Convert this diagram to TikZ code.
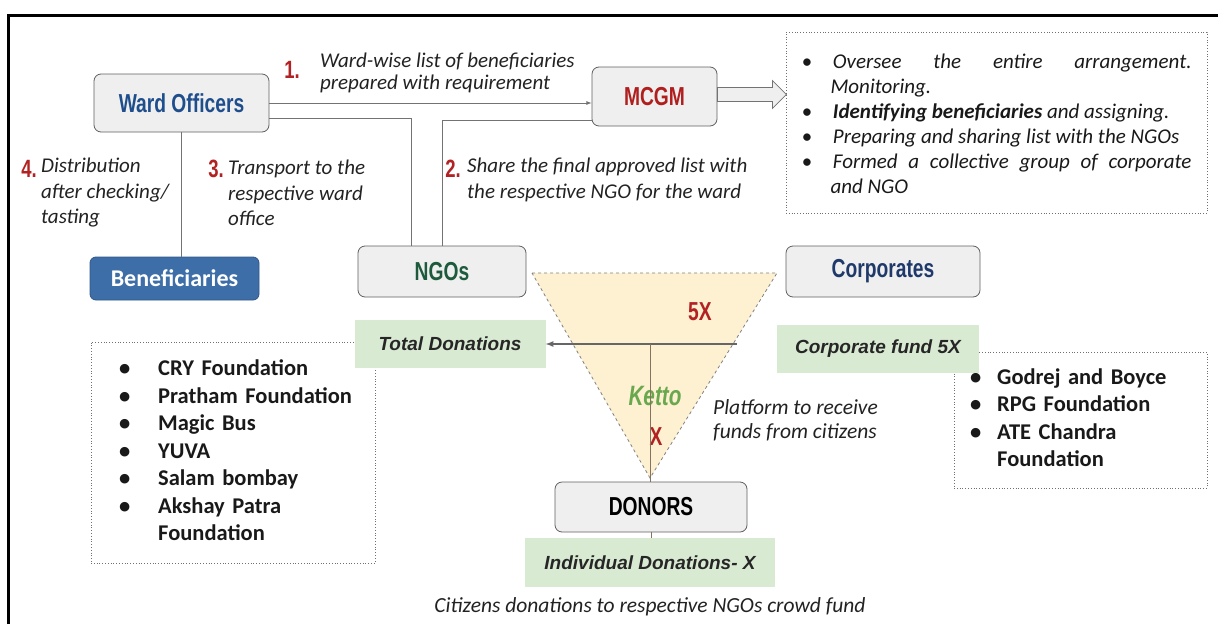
\documentclass[tikz,border=0pt]{standalone}
\usepackage{fontspec}
\setmainfont{Carlito}
\newfontfamily\condfont[FakeStretch=0.74]{Liberation Sans}
\newfontfamily\arialfont{Liberation Sans}
\usetikzlibrary{positioning}
\hyphenpenalty=10000
\exhyphenpenalty=10000
\hfuzz=30pt

\definecolor{boxfill}{HTML}{EFEFEF}
\definecolor{boxline}{HTML}{5F5F5F}
\definecolor{woblue}{HTML}{1F4E8C}
\definecolor{mcgmred}{HTML}{B01E1E}
\definecolor{ngogreen}{HTML}{1E5A3C}
\definecolor{corpblue}{HTML}{1F3A6A}
\definecolor{benfill}{HTML}{3D6EA8}
\definecolor{greenfill}{HTML}{D9EAD3}
\definecolor{trifill}{HTML}{FDF1D2}
\definecolor{kettogreen}{HTML}{6AA84F}
\definecolor{numred}{HTML}{B22222}
\definecolor{dotline}{HTML}{707070}
\definecolor{stemline}{HTML}{85725F}
\definecolor{notetext}{HTML}{222222}

\newenvironment{dutylist}{\begin{list}{\textbullet}{%
  \setlength\leftmargin{29pt}\setlength\labelwidth{8pt}%
  \setlength\labelsep{21pt}\setlength\itemsep{0pt}%
  \setlength\parsep{0pt}\setlength\topsep{0pt}\setlength\partopsep{0pt}}}%
  {\end{list}}

\begin{document}
\begin{tikzpicture}[
  x=1pt,y=1pt,
  graybox/.style={draw=boxline,fill=boxfill,rounded corners=7pt,line width=0.8pt,inner sep=0pt,
    font=\condfont\bfseries\fontsize{26}{26}\selectfont},
  benbox/.style={draw=benfill!80!black,fill=benfill,rounded corners=6pt,line width=0.8pt,inner sep=0pt,
    text=white,font=\bfseries\fontsize{24}{24}\selectfont},
  greenbox/.style={fill=greenfill,inner sep=0pt,text=black!85,
    font=\arialfont\bfseries\itshape\fontsize{19}{22}\selectfont},
  dotbox/.style={draw=dotline,dotted,line width=0.8pt,inner sep=0pt,text=black!90},
  numlabel/.style={text=numred,inner sep=0pt,font=\condfont\bfseries\fontsize{25}{25}\selectfont},
  note/.style={anchor=west,align=left,inner sep=0pt,text=notetext,
    font=\itshape\fontsize{21}{25.5}\selectfont},
  link/.style={draw=black!55,line width=0.8pt},
  thinarrow/.style={draw=black!55,line width=0.8pt,-latex},
  fatarrow/.style={draw=black!55,fill=boxfill,line width=0.8pt},
  fundarrow/.style={draw=black!60,line width=1.6pt,-latex},
  stem/.style={draw=stemline,line width=1pt}
]
\useasboundingbox (0,0) rectangle (1218,-624);

% frame
\draw[line width=3pt] (8,-624) -- (8,-15) -- (1218,-15);

% ketto funnel
\filldraw[fill=trifill,draw=black!50,dashed,line width=0.8pt]
  (532,-273) -- (777,-273) -- (650,-478) -- cycle;

% main boxes
\node[graybox,minimum width=175,minimum height=58,text=woblue] (wo) at (181.5,-103) {Ward Officers};
\node[graybox,minimum width=125,minimum height=59,text=mcgmred] (mcgm) at (654.5,-96.5) {MCGM};
\node[graybox,minimum width=168,minimum height=51,text=ngogreen] (ngo) at (442,-271.5) {NGOs};
\node[graybox,minimum width=194,minimum height=51,text=corpblue] (corp) at (883,-271.5) {Corporates};
\node[graybox,minimum width=192,minimum height=50,text=black] (donors) at (651,-507) {DONORS};
\node[benbox,minimum width=169,minimum height=43] (ben) at (174.5,-278.5) {Beneficiaries};

% lists
\node[dotbox,minimum width=421,minimum height=181,text width=390,align=justify,
  font=\itshape\fontsize{21}{25}\selectfont] (duties) at (996.5,-122.5) {%
  \begin{dutylist}
  \item Oversee the entire arrangement. Monitoring.
  \item \textbf{Identifying beneficiaries} and assigning.
  \item Preparing and sharing list with the NGOs
  \item Formed a collective group of corporate\linebreak and NGO
  \end{dutylist}\par\vspace{8pt}};
\node[dotbox,minimum width=284,minimum height=221,text width=228,
  font=\bfseries\fontsize{22.5}{27.5}\selectfont] (ngolist) at (233,-452.5) {%
  \begin{tabular}{@{}l@{\hspace{28pt}}l@{}}
  \textbullet & CRY Foundation\\
  \textbullet & Pratham Foundation\\
  \textbullet & Magic Bus\\
  \textbullet & YUVA\\
  \textbullet & Salam bombay\\
  \textbullet & Akshay Patra\\
              & Foundation
  \end{tabular}};
\node[dotbox,minimum width=253,minimum height=136,text width=221,
  font=\bfseries\fontsize{22.5}{27.3}\selectfont] (corplist) at (1080.5,-420) {%
  \begin{tabular}{@{}l@{\hspace{16pt}}l@{}}
  \textbullet & Godrej and Boyce\\
  \textbullet & RPG Foundation\\
  \textbullet & ATE Chandra\\
              & Foundation
  \end{tabular}};

% fund boxes
\node[greenbox,minimum width=191,minimum height=48] (total) at (450,-344) {Total Donations};
\node[greenbox,minimum width=202,minimum height=48] (corpfund) at (878,-349) {Corporate fund 5X};
\node[greenbox,minimum width=250,minimum height=49] (indiv) at (650,-562.5) {Individual Donations- X};

% step labels
\node[numlabel] (n1) at (292,-70) {1.};
\node[note,font=\itshape\fontsize{21}{22}\selectfont] (s1) at (320,-73)
  {Ward-wise list of beneficiaries\\prepared with requirement};
\node[numlabel] (n4) at (29,-169) {4.};
\node[note] (s4) at (41,-193) {Distribution\\after checking/\\tasting};
\node[numlabel] (n3) at (216,-169) {3.};
\node[note] (s3) at (228,-193) {Transport to the\\respective ward\\office};
\node[numlabel] (n2) at (453,-169) {2.};
\node[note] (s2) at (467,-180) {Share the final approved list with\\the respective NGO for the ward};

% funnel labels
\node[text=numred,font=\condfont\bfseries\fontsize{26}{26}\selectfont] (fivex) at (700,-312) {5X};
\node[text=kettogreen,font=\condfont\bfseries\itshape\fontsize{28}{28}\selectfont] (ketto) at (655,-396) {Ketto};
\node[text=numred,font=\condfont\bfseries\fontsize{26}{26}\selectfont] (onex) at (656,-437) {X};
\node[note,font=\itshape\fontsize{21.5}{24}\selectfont] (platform) at (713,-420) {Platform to receive\\funds from citizens};
\node[text=notetext,font=\itshape\fontsize{21.5}{22}\selectfont] (caption) at (650,-607)
  {Citizens donations to respective NGOs crowd fund};

% connectors
\coordinate (fundsplit) at (737,-344);
\coordinate (kettojoin) at (650,-344);
\draw[thinarrow] (wo.east) -- (wo.east -| mcgm.west);
\draw[link] ([yshift=-15pt]wo.east) -| ([xshift=-31pt]ngo.north);
\draw[link] ([yshift=-23.5pt]mcgm.west) -| (ngo.north);
\draw[link] (wo.south) -- (wo.south |- ben.north);
\draw[fatarrow] ([yshift=9pt]mcgm.east) -- ++(55,0) -- ++(0,7) -- ++(14,-14)
  -- ++(-14,-14) -- ++(0,7) -- ++(-55,0) -- cycle;
\draw[fundarrow] (fundsplit) -- (total.east);
\draw[stem] (kettojoin) -- (kettojoin |- donors.north);
\draw[stem] (donors.south) -- (donors.south |- indiv.north);

\end{tikzpicture}
\end{document}
